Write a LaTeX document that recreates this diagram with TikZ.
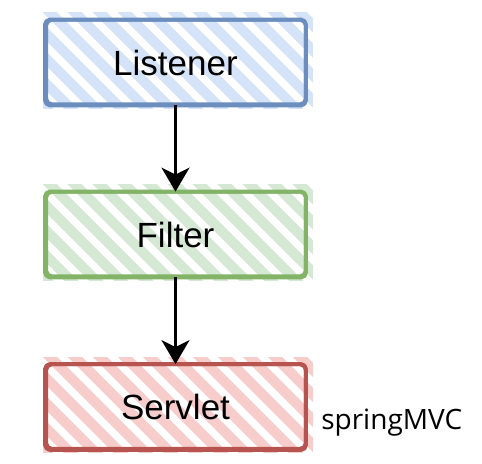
\documentclass[tikz,border=0pt]{standalone}
\usepackage{fontspec}
\setmainfont{Liberation Sans}
\newfontfamily\notefont{Open Sans}
\usetikzlibrary{positioning,arrows.meta,backgrounds}

\definecolor{listenerFill}{HTML}{D4E3F8}
\definecolor{listenerLine}{HTML}{6C8EBF}
\definecolor{filterFill}{HTML}{D5E8D4}
\definecolor{filterLine}{HTML}{82B366}
\definecolor{servletFill}{HTML}{F6CDCB}
\definecolor{servletLine}{HTML}{B85450}

\tikzset{
	stage/.style={minimum width=130pt, minimum height=42.5pt, inner sep=0pt,
		font=\fontsize{17.5}{20}\selectfont},
	hatch/.style={line width=5pt, line cap=round},
	rim/.style={line width=2pt, rounded corners=2.5pt, line join=round},
	flow/.style={line width=1.4pt, -{Stealth[length=12pt,width=14pt,inset=3.5pt]}},
	note/.style={font=\notefont\fontsize{14}{16}\selectfont, inner sep=0pt},
}

% hand drawn box: hatching behind, double stroked outline
\newcommand{\sketchbox}[3]{%
	\begin{scope}[on background layer]
		\begin{scope}
			\clip ([shift={(-2,-7)}]#1.north west) rectangle ([shift={(7,3)}]#1.south east);
			\foreach \k in {-5,...,11} {
				\draw[hatch, #2] ([shift={(25*\k,-12)}]#1.north west) -- ++(110,110);
			}
		\end{scope}
		\draw[rim, #3] (#1.north west) rectangle (#1.south east);
		\draw[rim, #3, line width=1pt] ([shift={(2,1)}]#1.north west) rectangle ([shift={(-1,-2)}]#1.south east);
	\end{scope}
}

\begin{document}
\begin{tikzpicture}[x=0.5pt, y=-0.5pt]
	
	% page size of the reference
	\useasboundingbox (0,0) rectangle (482,463);
	
	% the three stages
	\node[stage] (listener) at (175.5, 62.5) {Listener};
	\node[stage] (filter) at (175.5, 234.5) {Filter};
	\node[stage] (servlet) at (175.5, 407) {Servlet};
	
	\sketchbox{listener}{listenerFill}{listenerLine}
	\sketchbox{filter}{filterFill}{filterLine}
	\sketchbox{servlet}{servletFill}{servletLine}
	
	% arrows between the stages
	\draw[flow] (listener) -- (filter);
	\draw[flow] (filter) -- (servlet);
	
	% side label
	\node[note, anchor=west] (mvc) at ([shift={(15,16)}]servlet.east) {springMVC};
	
\end{tikzpicture}
\end{document}
